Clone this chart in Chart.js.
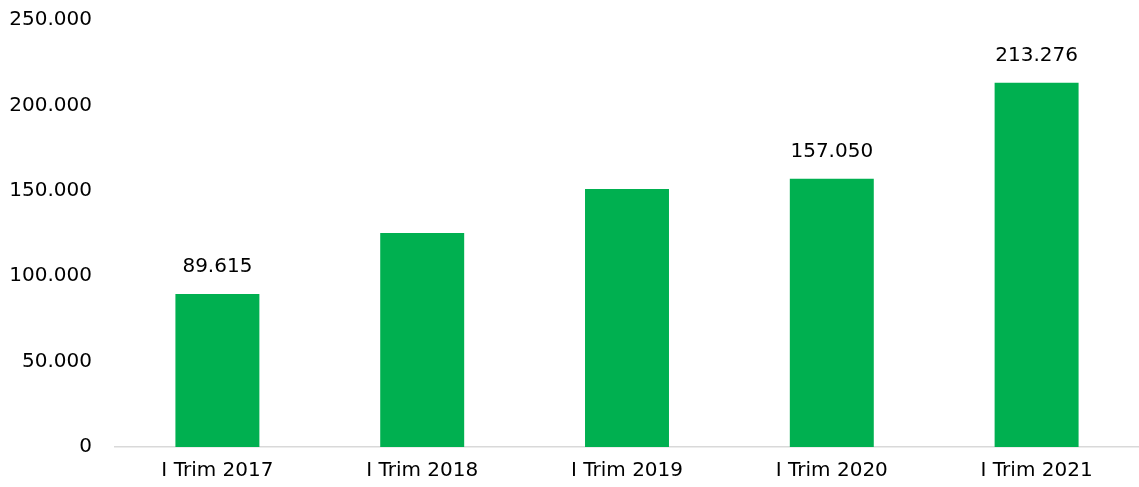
<!DOCTYPE html>
<html>
<head>
<meta charset="utf-8">
<script src="https://cdn.jsdelivr.net/npm/chart.js@4"></script>
<style>
  html, body { margin: 0; padding: 0; background: #fff; }
  #wrap { width: 1139px; height: 487px; }
</style>
</head>
<body>
<div id="wrap"><canvas id="chart" width="1139" height="487"></canvas></div>
<script>
// datos
const categories = ['I Trim 2017', 'I Trim 2018', 'I Trim 2019', 'I Trim 2020', 'I Trim 2021'];
const values = [89615, 125300, 151100, 157050, 213276];
const labelShown = [true, false, false, true, true];
const yMax = 250000;
const yStep = 50000;

const fmt = v => v.toLocaleString('de-DE');

// etiquetas encima de algunas barras
const barLabels = {
  id: 'barLabels',
  afterDatasetsDraw(chart) {
    const ctx = chart.ctx;
    const meta = chart.getDatasetMeta(0);
    ctx.save();
    ctx.font = '20px "DejaVu Sans"';
    ctx.fillStyle = '#000';
    ctx.textAlign = 'center';
    ctx.textBaseline = 'bottom';
    meta.data.forEach((bar, i) => {
      if (!labelShown[i]) return;
      ctx.fillText(fmt(values[i]), bar.x, bar.y - 17);
    });
    ctx.restore();
  }
};

new Chart(document.getElementById('chart'), {
  type: 'bar',
  data: {
    labels: categories,
    datasets: [{
      data: values,
      backgroundColor: '#00B050',
      categoryPercentage: 1,
      barPercentage: 0.41
    }]
  },
  options: {
    responsive: false,
    animation: false,
    layout: { padding: { top: 20, right: 0, left: 0, bottom: 0 } },
    plugins: { legend: { display: false }, tooltip: { enabled: false } },
    scales: {
      x: {
        grid: { display: false, drawTicks: false },
        border: { display: true, color: '#d9d9d9', width: 1.5 },
        ticks: { color: '#000', font: { family: 'DejaVu Sans', size: 20 }, padding: 12 },
        afterFit(scale) { scale.height = 40; scale.paddingLeft = 0; scale.paddingRight = 0; }
      },
      y: {
        min: 0,
        max: yMax,
        grid: { display: false, drawTicks: false },
        border: { display: false },
        ticks: {
          stepSize: yStep,
          color: '#000',
          font: { family: 'DejaVu Sans', size: 20 },
          padding: 23,
          callback: v => fmt(v)
        },
        afterFit(scale) { scale.width = 115; scale.paddingTop = 0; scale.paddingBottom = 0; }
      }
    }
  },
  plugins: [barLabels]
});
</script>
</body>
</html>
